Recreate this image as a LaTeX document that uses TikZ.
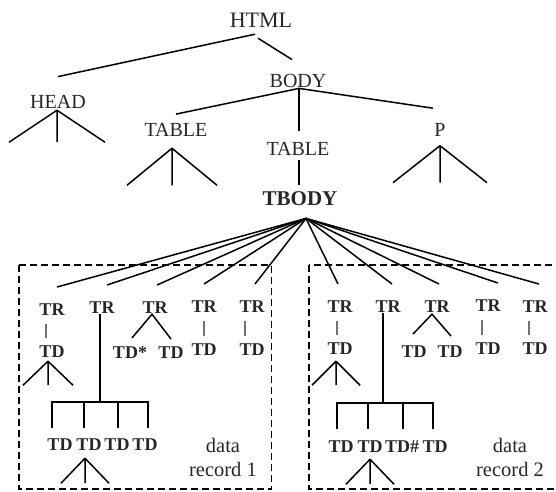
\documentclass[tikz,border=0pt]{standalone}
\usepackage{fontspec}
\setmainfont{Liberation Serif}
\definecolor{DomInk}{RGB}{38,38,38}
\tikzset{
  dom/tag/.style={
    font=\fontsize{20}{22}\selectfont,
    text=DomInk,
    inner sep=1pt,
    anchor=base
  },
  dom/bold/.style={
    font=\fontsize{18}{20}\selectfont\bfseries,
    text=DomInk,
    inner sep=1pt,
    anchor=base
  },
  dom/note/.style={
    font=\fontsize{20.5}{24}\selectfont,
    text=DomInk,
    align=center,
    inner sep=0pt
  },
  dom/edge/.style={line width=1.5pt, draw=black},
  dom/bar/.style={line width=1.1pt, draw=black!55},
  dom/record/.style={line width=1.6pt, draw=black, dash pattern=on 7pt off 4pt}
}

\begin{document}
\begin{tikzpicture}[x=1pt,y=-1pt]
  \clip (0,0) rectangle (556,491);
  \node[dom/tag,font=\fontsize{22}{24}\selectfont] (html) at (261,27) {HTML};
  \node[dom/tag] (head) at (58,108) {HEAD};
  \node[dom/tag] (body) at (298,87) {BODY};
  \node[dom/tag] (tableA) at (176,136.5) {TABLE};
  \node[dom/tag] (tableB) at (298,155) {TABLE};
  \node[dom/tag] (para) at (440,136.5) {P};
  \node[dom/bold,font=\fontsize{21}{23}\selectfont\bfseries] (tbody) at (300,205) {TBODY};

  \draw[dom/edge] ([xshift=-6pt,yshift=-6pt]html.south) -- ([yshift=17pt]head.north);
  \draw[dom/edge] ([xshift=-3pt,yshift=-10pt]html.south) -- ([xshift=-6pt,yshift=13pt]body.north);
  \draw[dom/edge] ([xshift=1pt]body.south) -- ([yshift=8pt]tableA.north);
  \draw[dom/edge] ([xshift=1pt]body.south) -- ([xshift=1pt,yshift=10pt]tableB.north);
  \draw[dom/edge] ([xshift=1pt]body.south) -- ([xshift=-7pt,yshift=14pt]para.north);
  \draw[dom/edge] ([xshift=1pt,yshift=-4pt]tableB.south) -- ([xshift=-1pt,yshift=5pt]tbody.north);

  \coordinate (fan) at ([xshift=6pt,yshift=-12pt]tbody.south);
  \foreach \i/\x/\y/\dx in {1/52/315/5,2/102/313/5,3/155/313/2,4/204/312/0,5/252/312/3,
                            6/340/312/-2,7/388/312/4,8/437/312/2,9/488/311/10,10/535/312/4}{
    \node[dom/bold] (tr\i) at (\x,\y) {TR};
    \draw[dom/edge] (fan) -- ([xshift=\dx pt,yshift=15pt]tr\i.north);
  }

  \foreach \n/\x/\y/\t in {tda/52/357/TD,tdd/204/355/TD,tde/252/355/TD,tdf/340/354/TD,
                           tdi/488/354/TD,tdj/535/354/TD,tdsA/130/358/TD*,tdsB/171/358/TD,
                           tdhA/414/357/TD,tdhB/450/357/TD}{
    \node[dom/bold] (\n) at (\x,\y) {\t};
  }
  \foreach \i/\x in {1/60,2/89,3/117,4/145}{
    \node[dom/bold] (tdl\i) at (\x,450) {TD};
  }
  \foreach \i/\x/\t in {1/341/TD,2/370/TD,3/402/TD\#,4/435/TD}{
    \node[dom/bold] (tdr\i) at (\x,452) {\t};
  }

  \foreach \a/\b/\dx in {tr1/tda/-6,tr4/tdd/0,tr5/tde/-7,tr6/tdf/-3,tr9/tdi/-6,tr10/tdj/-6}{
    \draw[dom/bar] ([xshift=\dx pt,yshift=-8pt]\a.south) -- ([xshift=\dx pt,yshift=6pt]\b.north);
  }

  \draw[dom/edge] ([xshift=2pt,yshift=7pt]tdsA.north) -- ([xshift=-3pt]tr3.south) -- ([yshift=6pt]tdsB.north);
  \draw[dom/edge] ([xshift=-1pt,yshift=10pt]tdhA.north) -- ([xshift=-5pt,yshift=-1pt]tr8.south) -- ([xshift=1pt,yshift=8pt]tdhB.north);

  \draw[dom/edge] ([xshift=-2pt]tr2.south) -- ++(0,88) coordinate (hubA);
  \draw[dom/edge] (hubA) ++(-48,26) |- ++(96,-26) -- ++(0,26);
  \foreach \dx in {-16,18}{
    \draw[dom/edge] (hubA) ++(\dx,0) -- ++(0,26);
  }
  \draw[dom/edge] ([xshift=-5pt]tr7.south) -- ++(0,90) coordinate (hubB);
  \draw[dom/edge] (hubB) ++(-46,26) |- ++(96,-26) -- ++(0,26);
  \foreach \dx in {-15,20}{
    \draw[dom/edge] (hubB) ++(\dx,0) -- ++(0,26);
  }

  \foreach \n/\dx/\dy/\w/\h in {head/-1/1/48/32,tableA/-4/10.5/45/37,para/0/8/47/37,
                                tda/-4/3/25/24,tdl2/-4/7/24/25,tdf/-4/6/24/24,tdr2/0/6/24/25}{
    \draw[dom/edge] (\n.south) ++(\dx,\dy) coordinate (\n-fork)
      -- ++(-\w,\h) (\n-fork) -- ++(0,\h) (\n-fork) -- ++(\w,\h);
  }

  \node[dom/note] (recA) at (223,457) {data\\record 1};
  \node[dom/note] (recB) at (510,457) {data\\record 2};

  \draw[dom/record] (19,265) rectangle (271.5,489);
  \draw[dom/record] (309,265) rectangle (575,489);
\end{tikzpicture}
\end{document}
